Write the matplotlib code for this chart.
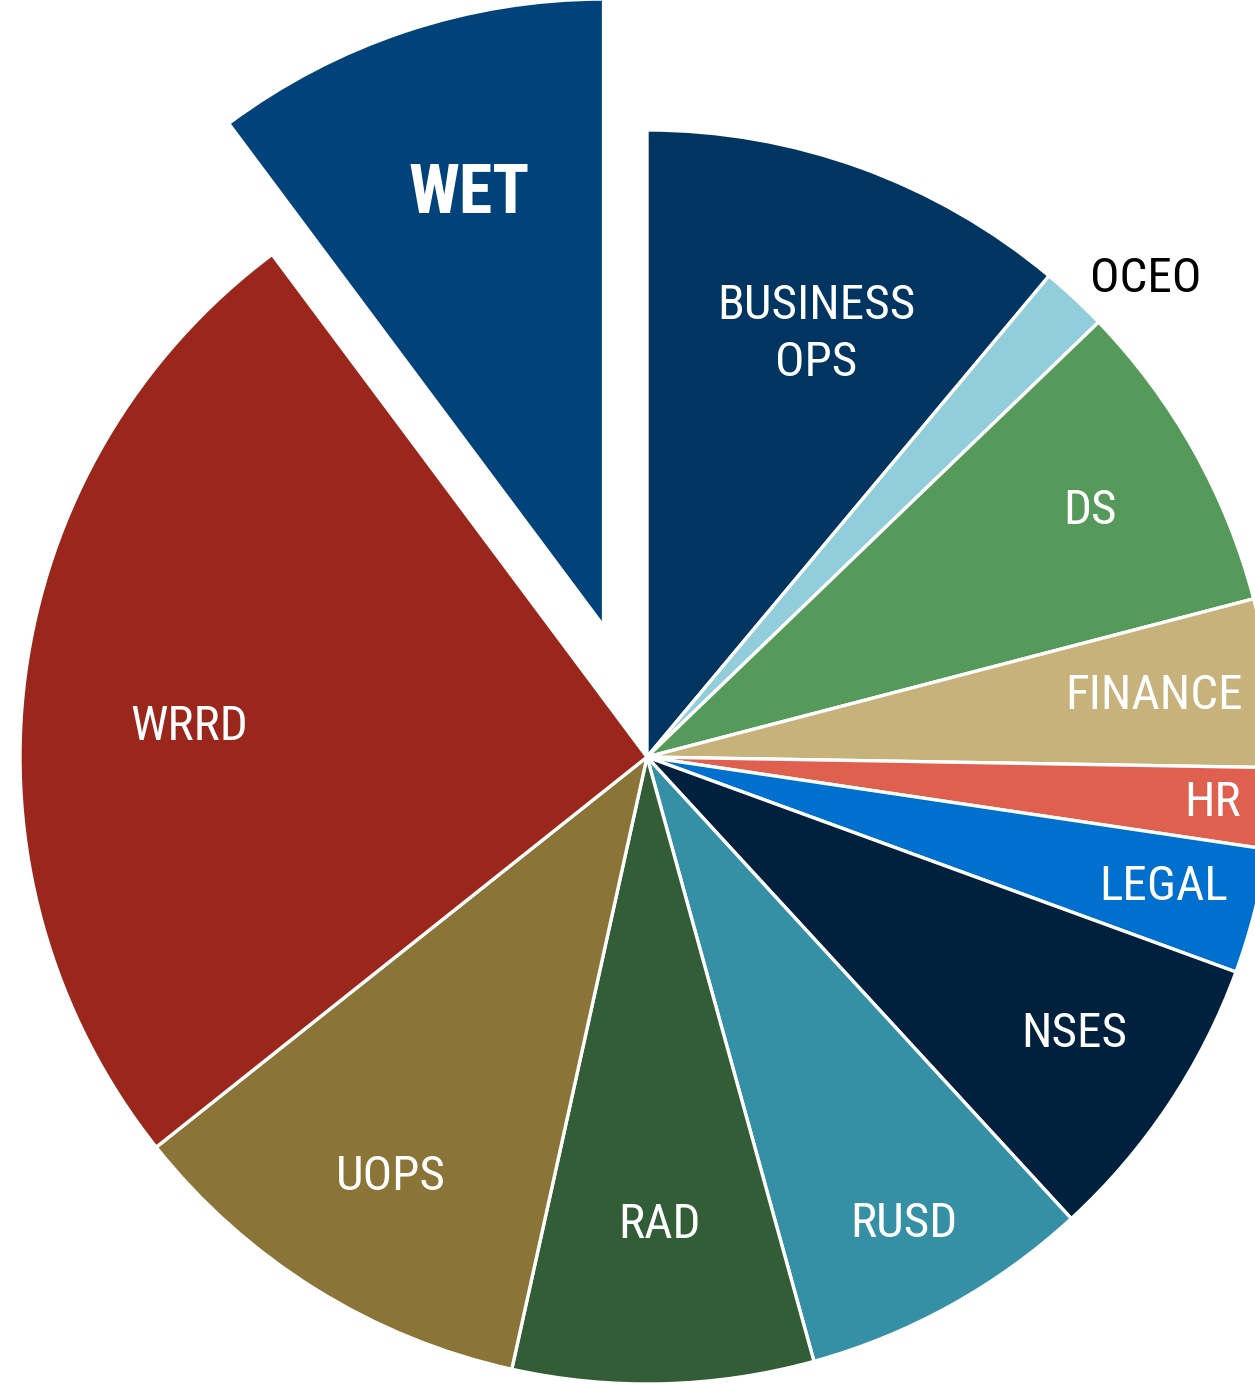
import matplotlib.pyplot as plt
import numpy as np

# department share of the total (percent)
departments = ["BUSINESS\nOPS", "OCEO", "DS", "FINANCE", "HR", "LEGAL",
               "NSES", "RUSD", "RAD", "UOPS", "WRRD", "WET"]
shares = [11.08, 1.72, 8.14, 4.33, 2.08, 3.22,
          7.60, 7.54, 7.75, 10.85, 25.49, 10.20]
colors = ["#003561", "#92CDDC", "#559A5A", "#C8B27C", "#E06050", "#0070CE",
          "#00213D", "#3590A5", "#335D37", "#8B7438", "#9B271C", "#00427A"]
highlight = "WET"

# label placement: (fraction of radius, angular nudge in degrees clockwise)
label_pos = {
    "BUSINESS\nOPS": (0.726, 1.9), "OCEO": (1.102, 3.2), "DS": (0.808, 0.25),
    "FINANCE": (0.814, 0.0), "HR": (0.905, -0.1), "LEGAL": (0.849, -0.1),
    "NSES": (0.812, -0.8), "RUSD": (0.85, 0.2), "RAD": (0.747, 0.0),
    "UOPS": (0.785, -0.6), "WRRD": (0.732, -3.6), "WET": (0.72, 1.1),
}

W, H = 1255, 1384
cx, cy, R = 647, 757, 627

plt.rcParams['font.family'] = ['Roboto Condensed', 'DejaVu Sans']

fig = plt.figure(figsize=(W / 100, H / 100), dpi=100)
ax = fig.add_axes([0, 0, 1, 1])

explode = [0.22 if d == highlight else 0 for d in departments]
wedges, _ = ax.pie(shares, colors=colors, startangle=90, counterclock=False,
                   explode=explode, radius=1.0,
                   wedgeprops=dict(edgecolor="white", linewidth=2.4))

for w, name in zip(wedges, departments):
    frac, nudge = label_pos[name]
    mid = np.deg2rad((w.theta1 + w.theta2) / 2 - nudge)
    x = w.center[0] + frac * np.cos(mid)
    y = w.center[1] + frac * np.sin(mid)
    txt_color = "black" if name == "OCEO" else "white"
    if name == highlight:
        ax.text(x, y, name, ha="center", va="center", color=txt_color,
                fontsize=49, fontweight="bold")
    else:
        ax.text(x, y, name, ha="center", va="center", color=txt_color,
                fontsize=35.5, linespacing=1.32)

ax.set_aspect("auto")
ax.set_xlim(-cx / R, (W - cx) / R)
ax.set_ylim(-(H - cy) / R, cy / R)
ax.axis("off")

fig.savefig("out.png", dpi=100)
